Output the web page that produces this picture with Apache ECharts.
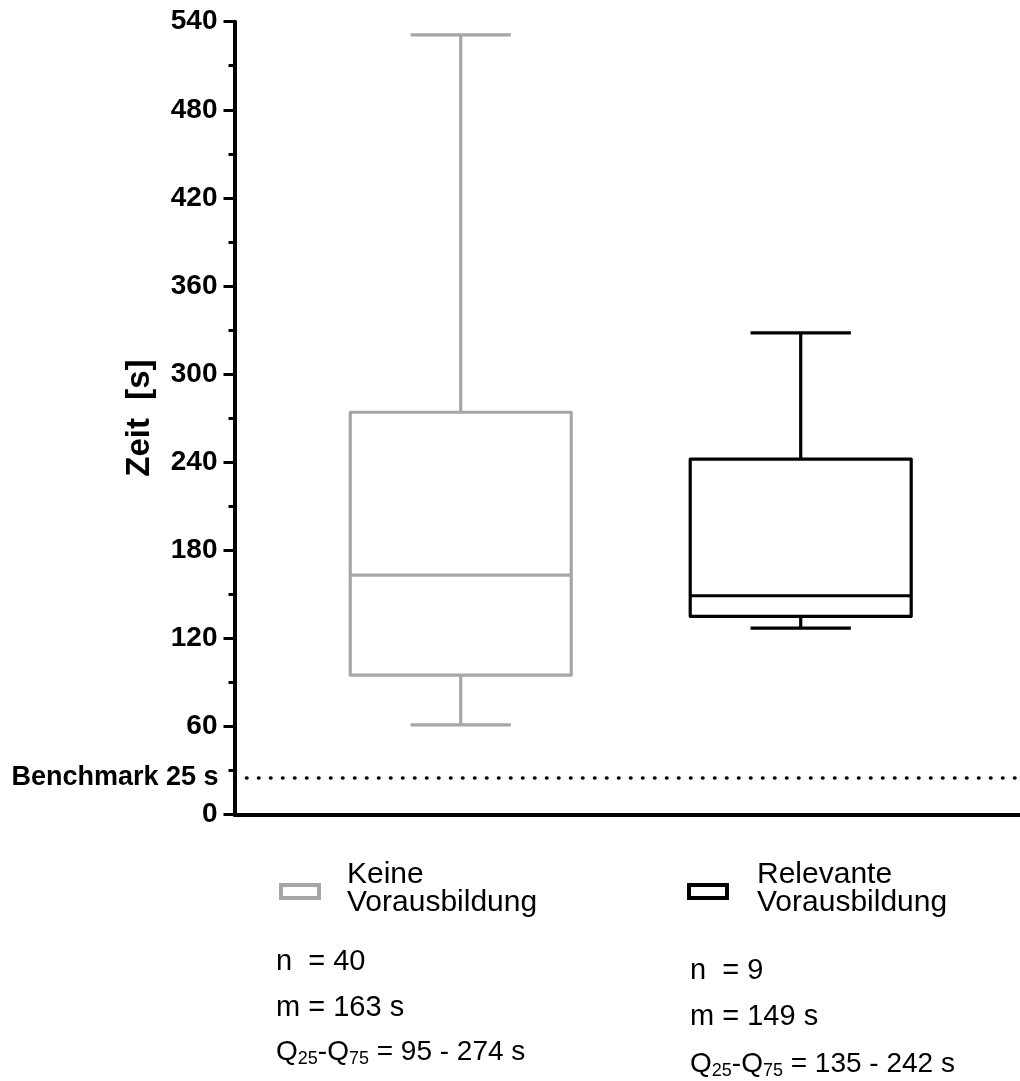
<!DOCTYPE html>
<html>
<head>
<meta charset="utf-8">
<script src="https://cdn.jsdelivr.net/npm/echarts@6/dist/echarts.min.js"></script>
<style>
  html, body { margin: 0; padding: 0; background: #fff; }
  #chart { width: 1020px; height: 1081px; }
</style>
</head>
<body>
<div id="chart"></div>
<script>
// Bearbeitungszeit je Gruppe: [Minimum, Q25, Median, Q75, Maximum] in Sekunden
const groups = ['Keine Vorausbildung', 'Relevante Vorausbildung'];
const groupLabels = ['Keine\nVorausbildung', 'Relevante\nVorausbildung'];
const groupColors = ['#a6a6a6', '#000000'];
const keineStats = [61, 95, 163, 274, 531];
const relevanteStats = [127, 135, 149, 242, 328];
const sampleSizes = [40, 9];
const benchmark = [25];
const yMin = 0, yMax = 540, yStep = 60;

const FONT = '"Liberation Sans", Arial, sans-serif';
const allStats = [keineStats, relevanteStats];

// Box with whiskers drawn through the category/value scales
function boxRenderer(color) {
  return function (params, api) {
    const x = api.value(0);
    const lo = api.coord([x, api.value(1)]);
    const q1 = api.coord([x, api.value(2)]);
    const md = api.coord([x, api.value(3)]);
    const q3 = api.coord([x, api.value(4)]);
    const hi = api.coord([x, api.value(5)]);
    const band = api.size([1, 0])[0];
    const bw = band * 0.65;
    const cw = band * 0.295;
    const cx = q1[0];
    const st = { stroke: color, lineWidth: 3.2, fill: null, lineJoin: 'round' };
    return {
      type: 'group',
      children: [
        { type: 'line', shape: { x1: cx, y1: hi[1], x2: cx, y2: q3[1] }, style: st },
        { type: 'line', shape: { x1: cx - cw / 2, y1: hi[1], x2: cx + cw / 2, y2: hi[1] }, style: st },
        { type: 'line', shape: { x1: cx, y1: q1[1], x2: cx, y2: lo[1] }, style: st },
        { type: 'line', shape: { x1: cx - cw / 2, y1: lo[1], x2: cx + cw / 2, y2: lo[1] }, style: st },
        { type: 'rect', shape: { x: cx - bw / 2, y: q3[1], width: bw, height: q1[1] - q3[1] },
          style: Object.assign({}, st, { fill: '#fff' }) },
        { type: 'line', shape: { x1: cx - bw / 2, y1: md[1], x2: cx + bw / 2, y2: md[1] }, style: st }
      ]
    };
  };
}

const chart = echarts.init(document.getElementById('chart'), null, { renderer: 'canvas' });

const gridTop = 21.7, gridBottom = 266.5, axisLeft = 234.5;

// Legend and summary statistics below the plot
const statRich = {
  n: { fontFamily: FONT, fontSize: 28, lineHeight: 32, color: '#000' },
  s: { fontFamily: FONT, fontSize: 18, lineHeight: 19, verticalAlign: 'bottom', color: '#000' }
};
function statBlock(i, x, yN, yM, yQ) {
  const st = allStats[i];
  return [
    { type: 'text', x: x, y: yN, style: { text: 'n  = ' + sampleSizes[i], font: '29px ' + FONT, fill: '#000', verticalAlign: 'middle' } },
    { type: 'text', x: x, y: yM, style: { text: 'm = ' + st[2] + ' s', font: '29px ' + FONT, fill: '#000', verticalAlign: 'middle' } },
    { type: 'text', x: x, y: yQ, style: {
        text: '{n|Q}{s|25}{n|-Q}{s|75}{n| = ' + st[1] + ' - ' + st[3] + ' s}',
        rich: statRich, verticalAlign: 'middle', fill: '#000' } }
  ];
}

const option = {
  animation: false,
  backgroundColor: '#fff',
  grid: [
    { left: 290.75, right: 49.3, top: gridTop, bottom: gridBottom },
    { left: axisLeft, right: 0, top: gridTop, bottom: gridBottom }
  ],
  xAxis: [
    { type: 'category', gridIndex: 0, data: groups, show: false },
    { type: 'value', gridIndex: 1, min: 0, max: 1,
      axisLine: { show: true, onZero: false, lineStyle: { color: '#000', width: 4 } },
      axisTick: { show: false }, axisLabel: { show: false }, splitLine: { show: false } }
  ],
  yAxis: [
    { type: 'value', gridIndex: 0, min: yMin, max: yMax, show: false },
    { type: 'value', gridIndex: 1, min: yMin, max: yMax, interval: yStep,
      name: 'Zeit  [s]', nameLocation: 'middle', nameRotate: 90, nameGap: 78,
      nameTextStyle: { fontFamily: FONT, fontSize: 33, fontWeight: 'bold', color: '#000' },
      axisLine: { show: true, lineStyle: { color: '#000', width: 4 } },
      axisTick: { show: true, length: 11, lineStyle: { color: '#000', width: 3 } },
      minorTick: { show: true, splitNumber: 2, length: 6, lineStyle: { color: '#000', width: 3 } },
      axisLabel: { margin: 17, fontFamily: FONT, fontSize: 28, fontWeight: 'bold', color: '#000' },
      splitLine: { show: false }, minorSplitLine: { show: false } }
  ],
  series: [
    { type: 'custom', name: groups[0], xAxisIndex: 0, yAxisIndex: 0,
      renderItem: boxRenderer(groupColors[0]),
      encode: { x: 0, y: [1, 2, 3, 4, 5] },
      data: [[0].concat(keineStats)] },
    { type: 'custom', name: groups[1], xAxisIndex: 0, yAxisIndex: 0,
      renderItem: boxRenderer(groupColors[1]),
      encode: { x: 0, y: [1, 2, 3, 4, 5] },
      data: [[1].concat(relevanteStats)] },
    // Benchmark: dotted reference line with its label left of the axis
    { type: 'line', name: 'Benchmark', xAxisIndex: 1, yAxisIndex: 1, z: 1,
      symbol: 'none', silent: true,
      lineStyle: { opacity: 0 },
      data: [[0, benchmark[0]], [1, benchmark[0]]],
      markLine: {
        silent: true, symbol: 'none', animation: false,
        lineStyle: { color: '#000', width: 3.5, type: [0.5, 11.5], cap: 'round', opacity: 1 },
        data: [{ yAxis: benchmark[0] }],
        label: { show: true, position: 'start', distance: 16, opacity: 1,
                 formatter: 'Benchmark ' + benchmark[0] + ' s',
                 fontFamily: FONT, fontSize: 27, fontWeight: 'bold', color: '#000' }
      } }
  ],
  graphic: [
    { type: 'rect', shape: { x: 281, y: 885, width: 38, height: 13 },
      style: { fill: '#fff', stroke: groupColors[0], lineWidth: 4 } },
    { type: 'text', x: 347, y: 889,
      style: { text: groupLabels[0], font: '30px ' + FONT, lineHeight: 28, fill: '#000', verticalAlign: 'middle' } },
    { type: 'rect', shape: { x: 689, y: 885, width: 38, height: 13 },
      style: { fill: '#fff', stroke: groupColors[1], lineWidth: 4 } },
    { type: 'text', x: 757, y: 889,
      style: { text: groupLabels[1], font: '30px ' + FONT, lineHeight: 28, fill: '#000', verticalAlign: 'middle' } }
  ].concat(statBlock(0, 276, 962, 1007.5, 1052.5))
   .concat(statBlock(1, 690, 971, 1017, 1064))
};

chart.setOption(option);
</script>
</body>
</html>
